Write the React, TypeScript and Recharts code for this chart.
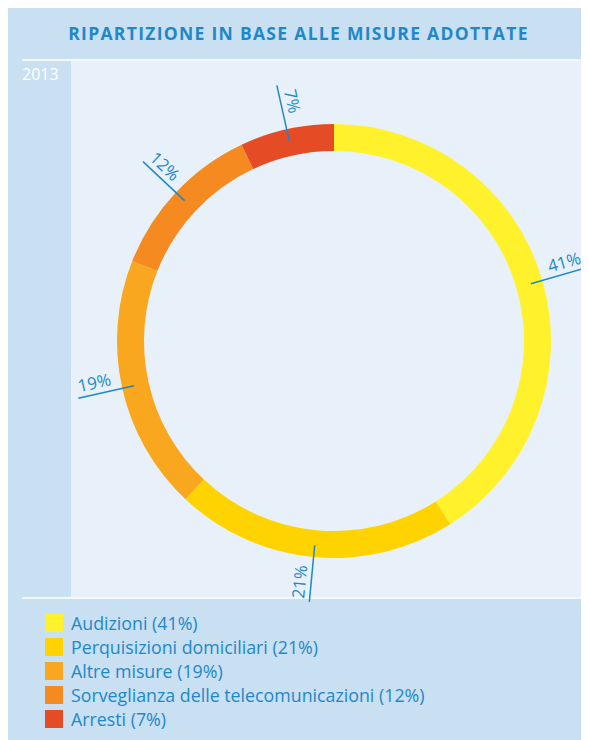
import React from "react";
import { PieChart, Pie, Cell, Legend } from "recharts";

const TITLE = "RIPARTIZIONE IN BASE ALLE MISURE ADOTTATE";
const YEAR = "2013";
const categories = [
  "Audizioni",
  "Perquisizioni domiciliari",
  "Altre misure",
  "Sorveglianza delle telecomunicazioni",
  "Arresti",
];
const values = [41, 21, 19, 12, 7];
const colors = ["#fff22d", "#ffd300", "#f9a71f", "#f58a21", "#e54c26"];

const BLUE = "#1e88c8";
const OUTER_BG = "#c9dff2";
const INNER_BG = "#e8f1f9";
const FONT = "'Open Sans', 'Noto Sans', sans-serif";

const data = categories.map((name, i) => ({ name, value: values[i] }));

const RADIAN = Math.PI / 180;

const renderLabel = (props: any) => {
  const { cx, cy, midAngle, value } = props;
  const ox = Math.cos(-midAngle * RADIAN);
  const oy = Math.sin(-midAngle * RADIAN);
  const r1 = 205;
  const r2 = 262;
  const rt = 243;
  let dx = ox;
  let dy = oy;
  if (dx < 0) {
    dx = -dx;
    dy = -dy;
  }
  const theta = (Math.atan2(dy, dx) * 180) / Math.PI;
  const ux = Math.sin(theta * RADIAN);
  const uy = -Math.cos(theta * RADIAN);
  const tx = cx + rt * ox + 12 * ux;
  const ty = cy + rt * oy + 12 * uy;
  return (
    <g>
      <line
        x1={cx + r1 * ox}
        y1={cy + r1 * oy}
        x2={cx + r2 * ox}
        y2={cy + r2 * oy}
        stroke={BLUE}
        strokeWidth={1.5}
      />
      <text
        x={tx}
        y={ty}
        fill={BLUE}
        fontSize={17}
        fontFamily={FONT}
        textAnchor="middle"
        dominantBaseline="central"
        transform={`rotate(${theta}, ${tx}, ${ty})`}
      >
        {`${value}%`}
      </text>
    </g>
  );
};

const renderLegend = () => (
  <div style={{ fontFamily: FONT }}>
    {categories.map((c, i) => (
      <div
        key={c}
        style={{ display: "flex", alignItems: "center", height: 24 }}
      >
        <div
          style={{
            width: 18,
            height: 18,
            background: colors[i],
            marginRight: 8,
            flexShrink: 0,
          }}
        />
        <span style={{ color: BLUE, fontSize: 17.8, whiteSpace: "nowrap" }}>
          {`${c} (${values[i]}%)`}
        </span>
      </div>
    ))}
  </div>
);

export default function App() {
  const W = 581;
  const H = 732;
  return (
    <div
      style={{
        position: "relative",
        width: W,
        height: H,
        background: OUTER_BG,
        fontFamily: FONT,
        overflow: "hidden",
      }}
    >
      <div
        style={{
          position: "absolute",
          left: 0,
          top: 14,
          width: W,
          textAlign: "center",
          color: BLUE,
          fontWeight: 700,
          fontSize: 17.5,
          letterSpacing: 1.3,
          lineHeight: "22px",
          whiteSpace: "nowrap",
        }}
      >
        {TITLE}
      </div>
      <div
        style={{
          position: "absolute",
          left: 14,
          top: 51,
          width: W - 14,
          height: 2,
          background: "#f4f8fc",
        }}
      />
      <div
        style={{
          position: "absolute",
          left: 63,
          top: 53,
          width: W - 63,
          height: 536,
          background: INNER_BG,
        }}
      />
      <div
        style={{
          position: "absolute",
          left: 14,
          top: 57,
          color: "#ffffff",
          fontSize: 16,
          lineHeight: "18px",
        }}
      >
        {YEAR}
      </div>
      <div
        style={{
          position: "absolute",
          left: 14,
          top: 589,
          width: W - 14,
          height: 2,
          background: "#f4f8fc",
        }}
      />
      <div style={{ position: "absolute", left: 0, top: 0 }}>
        <PieChart
          width={W}
          height={H}
          margin={{ top: 0, right: 0, bottom: 0, left: 0 }}
        >
          <Pie
            data={data}
            dataKey="value"
            nameKey="name"
            cx={326}
            cy={333}
            innerRadius={190}
            outerRadius={217}
            startAngle={90}
            endAngle={-270}
            stroke="none"
            label={renderLabel}
            labelLine={false}
            isAnimationActive={false}
          >
            {data.map((d, i) => (
              <Cell key={d.name} fill={colors[i]} />
            ))}
          </Pie>
          <Legend
            content={renderLegend}
            wrapperStyle={{
              position: "absolute",
              left: 37,
              top: 603,
              width: 480,
            }}
          />
        </PieChart>
      </div>
    </div>
  );
}
